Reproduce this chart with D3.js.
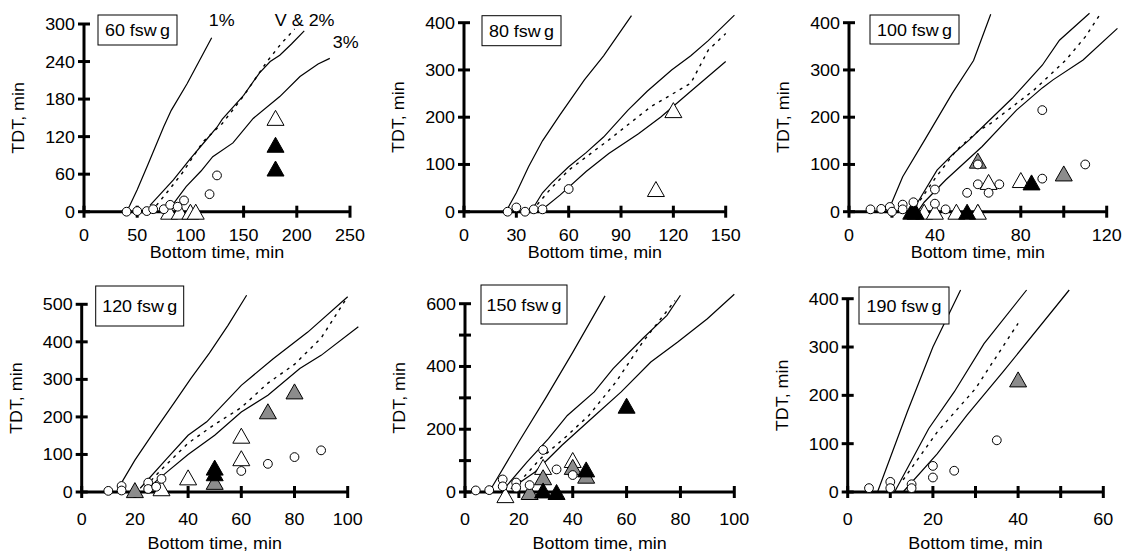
<!DOCTYPE html>
<html>
<head>
<meta charset="utf-8">
<script src="https://cdn.jsdelivr.net/npm/d3@7"></script>
<style>
  body { margin: 0; background: #fff; }
  svg { display: block; font-family: Arial, "Liberation Sans", sans-serif; }
</style>
</head>
<body>
<div id="chart"></div>
<script>
// Panels (depth) and axis ranges
const depths = [60, 80, 100, 120, 150, 190];
const xMax = [250, 150, 120, 100, 100, 60];
const xTickStep = [50, 30, 20, 20, 20, 10];
const xLabelStep = [50, 30, 40, 20, 20, 20];
const yMax = [300, 400, 400, 500, 600, 400];
const yTickStep = [60, 100, 100, 100, 100, 100];
const yLabelStep = [60, 100, 100, 100, 200, 100];

// Risk curves: [bottom time, TDT]
const risk1 = {
    60: [[40,0],[43,10],[50,35],[60,75],[75,136],[82,162],[97,205],[120,278]],
    80: [[24,0],[30,40],[37,95],[45,150],[55,205],[69,279],[80,330],[96,415]],
    100: [[18,0],[20,20],[25,74],[35,150],[48,250],[58,320],[66,418]],
    120: [[15,25],[20,85],[28,169],[35,240],[41,302],[48,370],[55,444],[62,524]],
    150: [[10,15],[20,160],[30,300],[40,445],[52,625]],
    190: [[7,0],[14,166],[20,300],[26.5,418]]
};
const risk2 = {
    60: [[62,10],[70,25],[84,51],[100,85],[115,115],[125,135],[130,148],[150,186],[165,222],[175,240],[184,250],[195,268],[207,289]],
    80: [[40,10],[45,40],[50,60],[60,95],[70,125],[80,158],[94,215],[105,255],[119,300],[130,330],[140,362],[155,416]],
    100: [[29,0],[32,20],[41,88],[48,120],[56,152],[63,183],[76,240],[90,310],[98,363],[112,420]],
    120: [[22,10],[32,89],[40,151],[47,187],[60,284],[72,355],[85,426],[100,520]],
    150: [[15,15],[23,95],[31,170],[38,244],[48,319],[55,393],[66,489],[75,563],[80,627]],
    190: [[11,0],[19,131],[25,207],[32,307],[42,418]]
};
const riskV = {
    60: [[68,10],[80,35],[92,61],[112,112],[130,141],[150,185],[172,240],[185,268],[198,292]],
    80: [[42,15],[50,50],[60,88],[83,152],[107,222],[130,272],[140,342],[150,377]],
    100: [[31,10],[40,70],[50,130],[60,170],[66,187],[86,257],[101,321],[110,370],[117,418]],
    120: [[24,15],[30,60],[40,130],[50,180],[60,225],[70,290],[80,340],[90,410],[99,510]],
    150: [[20,30],[28,106],[38,180],[46,244],[56,350],[66,478],[78,610]],
    190: [[13,25],[21,124],[30,214],[40,349]]
};
const risk3 = {
    60: [[78,0],[85,15],[96,40],[110,65],[121,88],[140,110],[159,149],[184,184],[203,216],[220,236],[231,245]],
    80: [[45,5],[55,35],[70,85],[83,123],[100,165],[113,201],[130,255],[150,318]],
    100: [[32,0],[35,20],[45,67],[62,138],[78,215],[90,262],[95,279],[109,321],[125,388]],
    120: [[24,5],[32,53],[40,100],[50,151],[60,213],[70,258],[82,329],[90,364],[104,440]],
    150: [[17,10],[26,64],[36,149],[47,234],[58,319],[69,414],[79,478],[90,552],[100,630]],
    190: [[13,0],[21,79],[28,159],[36.5,249],[52,418]]
};

// Observed dives
const circles = {
    60: [[40,0],[50,1],[59,1],[65,4],[75,4],[81,11],[88,8],[94,18],[118,28],[125,58]],
    80: [[25,0],[30,9],[35,0],[40,5],[45,5],[60,48]],
    100: [[10,5],[15,6],[19,10],[20,0],[25,15],[25,5],[30,20],[40,47],[40,17],[45,5],[55,40],[60,58],[60,100],[65,40],[70,58],[90,70],[90,215],[110,100]],
    120: [[10,3],[15,16],[15,4],[25,25],[25,8],[28,14],[30,35],[60,56],[70,75],[80,93],[90,111]],
    150: [[4,5],[9,6],[14,40],[14,18],[19,30],[19,14],[24,22],[29,134],[34,72],[40,54]],
    190: [[5,8],[10,21],[10,8],[15,16],[15,8],[20,54],[20,30],[25,44],[35,107]]
};
const openTriangles = {
    60: [[80,0],[90,0],[100,0],[105,0],[180,150]],
    80: [[110,48],[120,215]],
    100: [[35,0],[40,0],[50,0],[60,0],[65,63],[80,67]],
    120: [[30,10],[40,39],[60,150],[60,90]],
    150: [[15,-10],[29,80],[40,102]],
    190: []
};
const grayTriangles = {
    60: [], 80: [],
    100: [[60,108],[100,81]],
    120: [[20,5],[50,27],[70,215],[80,268]],
    150: [[24,0],[29,47],[40,80],[45,52]],
    190: [[40,233]]
};
const blackTriangles = {
    60: [[180,107],[180,69]],
    80: [],
    100: [[29,0],[31,0],[55,0],[85,62]],
    120: [[50,50],[50,65]],
    150: [[29,5],[34,0],[45,72],[60,275]],
    190: []
};
const curveLabels = ["1%", "V & 2%", "3%"];

// Layout of each panel in the 1125x552 page
const frames = [
    { x0: 84, x1: 350, y0: 211.7, y1: 24, box: [98, 15, 79, 30], tickDy: 29.5, titleDy: 46.5 },
    { x0: 464, x1: 725.7, y0: 211.7, y1: 22.7, box: [482, 15.7, 79, 30], tickDy: 29.5, titleDy: 46.5 },
    { x0: 849, x1: 1106.7, y0: 211.7, y1: 22.7, box: [870, 15, 89, 29], tickDy: 29.5, titleDy: 46.5 },
    { x0: 81.7, x1: 347.7, y0: 492, y1: 304.3, box: [95.7, 286, 88, 40], tickDy: 32.5, titleDy: 56.5 },
    { x0: 465, x1: 734.3, y0: 492, y1: 303.7, box: [481, 285, 86, 39], tickDy: 32.5, titleDy: 56.5 },
    { x0: 847.7, x1: 1103.3, y0: 492, y1: 298.7, box: [859, 287, 90, 37], tickDy: 32.5, titleDy: 56.5 }
];

const fontSize = 16;
const stretch = 1.12;   // the original type is a little wide
const triW = 17, triH = 15;
const triangle = `M0,${-triH/2}L${triW/2},${triH/2}L${-triW/2},${triH/2}Z`;

const svg = d3.select("#chart").append("svg")
    .attr("width", 1125)
    .attr("height", 552);

function label(g, x, y, text, anchor, rotate) {
    return g.append("text")
        .attr("transform", `translate(${x},${y})${rotate ? " rotate(-90)" : ""} scale(${stretch},1)`)
        .attr("text-anchor", anchor)
        .attr("font-size", fontSize)
        .text(text);
}

depths.forEach((depth, i) => {
    const f = frames[i];
    const x = d3.scaleLinear().domain([0, xMax[i]]).range([f.x0, f.x1]);
    const y = d3.scaleLinear().domain([0, yMax[i]]).range([f.y0, f.y1]);
    const g = svg.append("g");

    // curves
    const line = d3.line().x(d => x(d[0])).y(d => y(d[1]));
    [risk1, risk2, risk3].forEach(s => {
        g.append("path").attr("d", line(s[depth]))
            .attr("fill", "none").attr("stroke", "#000").attr("stroke-width", 1.2);
    });
    g.append("path").attr("d", line(riskV[depth]))
        .attr("fill", "none").attr("stroke", "#000").attr("stroke-width", 1.4)
        .attr("stroke-dasharray", "3,5");

    // axes
    g.append("line").attr("x1", x(0)).attr("x2", x(xMax[i]))
        .attr("y1", y(0)).attr("y2", y(0))
        .attr("stroke", "#000").attr("stroke-width", 3);
    g.append("line").attr("x1", x(0)).attr("x2", x(0))
        .attr("y1", y(0)).attr("y2", y(yMax[i]))
        .attr("stroke", "#000").attr("stroke-width", 3);

    const xt = d3.range(0, xMax[i] + 0.1, xTickStep[i]);
    g.selectAll(".xt").data(xt).enter().append("line")
        .attr("x1", d => x(d)).attr("x2", d => x(d))
        .attr("y1", y(0) - 6).attr("y2", y(0) + 6)
        .attr("stroke", "#000").attr("stroke-width", 3);
    xt.filter(d => d % xLabelStep[i] === 0)
        .forEach(d => label(g, x(d), y(0) + f.tickDy, d, "middle"));

    const yt = d3.range(0, yMax[i] + 0.1, yTickStep[i]);
    g.selectAll(".yt").data(yt).enter().append("line")
        .attr("x1", x(0) - 6).attr("x2", x(0) + 6)
        .attr("y1", d => y(d)).attr("y2", d => y(d))
        .attr("stroke", "#000").attr("stroke-width", 3);
    yt.filter(d => d % yLabelStep[i] === 0)
        .forEach(d => label(g, x(0) - 9, y(d) + 6, d, "end"));

    // axis titles
    label(g, (f.x0 + f.x1) / 2, f.y0 + f.titleDy, "Bottom time, min", "middle");
    label(g, f.x0 - 60, (f.y0 + f.y1) / 2, "TDT, min", "middle", true);

    // markers
    const tri = (data, fill) => g.selectAll(null).data(data).enter().append("path")
        .attr("d", triangle)
        .attr("transform", d => `translate(${x(d[0])},${y(d[1])})`)
        .attr("fill", fill).attr("stroke", "#000").attr("stroke-width", 1);
    tri(openTriangles[depth], "#fff");
    tri(grayTriangles[depth], "#8c8c8c");
    tri(blackTriangles[depth], "#000");
    g.selectAll(null).data(circles[depth]).enter().append("circle")
        .attr("cx", d => x(d[0])).attr("cy", d => y(d[1]))
        .attr("r", 4.4)
        .attr("fill", "#fff").attr("stroke", "#000").attr("stroke-width", 1);

    // depth label box
    const [bx, by, bw, bh] = f.box;
    g.append("rect").attr("x", bx).attr("y", by).attr("width", bw).attr("height", bh)
        .attr("fill", "#fff").attr("stroke", "#000").attr("stroke-width", 1);
    const lbl = label(g, bx + bw / 2, by + bh / 2 + 6, null, "middle");
    lbl.append("tspan").text(`${depth} fsw`);
    lbl.append("tspan").attr("dx", 3).text("g");

    // curve labels only on the first panel
    if (i === 0) {
        const ends = [risk1[depth], riskV[depth], risk3[depth]].map(s => s[s.length - 1]);
        const offs = [[-3, -12, "start"], [10, -3, "middle"], [3, -10, "start"]];
        curveLabels.forEach((t, k) => {
            label(g, x(ends[k][0]) + offs[k][0], y(ends[k][1]) + offs[k][1], t, offs[k][2]);
        });
    }
});
</script>
</body>
</html>
